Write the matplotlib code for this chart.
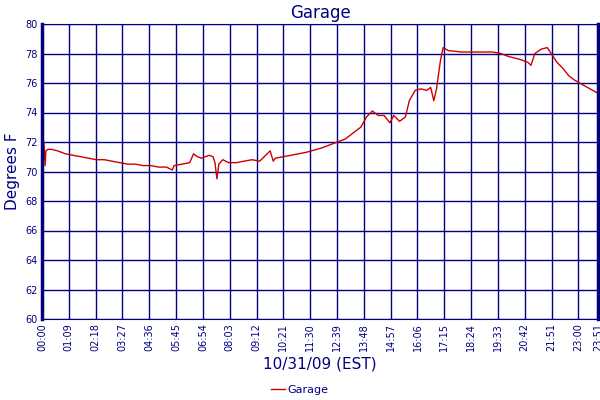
import matplotlib
matplotlib.use("Agg")
import matplotlib.pyplot as plt
from matplotlib.lines import Line2D

minutes = [0,5,8,10,15,25,40,60,80,100,120,140,160,180,200,220,240,260,280,300,320,335,340,360,380,390,400,410,420,430,440,445,450,455,465,480,500,520,540,560,587,595,600,640,680,720,750,780,800,820,835,850,865,880,895,905,920,935,945,960,975,990,1000,1008,1015,1025,1032,1045,1080,1120,1160,1180,1200,1230,1250,1258,1268,1285,1300,1310,1325,1340,1355,1370,1390,1410,1431]
temps = [72.0,72.0,70.4,71.4,71.5,71.5,71.4,71.2,71.1,71.0,70.9,70.8,70.8,70.7,70.6,70.5,70.5,70.4,70.4,70.3,70.3,70.1,70.4,70.5,70.6,71.2,71.0,70.9,71.0,71.1,71.0,70.6,69.5,70.5,70.8,70.6,70.6,70.7,70.8,70.7,71.4,70.7,70.9,71.1,71.3,71.6,71.9,72.2,72.6,73.0,73.7,74.1,73.8,73.8,73.3,73.8,73.4,73.7,74.8,75.5,75.6,75.5,75.7,74.8,75.6,77.5,78.4,78.2,78.1,78.1,78.1,78.0,77.8,77.6,77.4,77.2,78.0,78.3,78.4,78.0,77.4,77.0,76.5,76.2,75.9,75.6,75.3]
tick_labels = ["00:00","01:09","02:18","03:27","04:36","05:45","06:54","08:03","09:12","10:21","11:30","12:39","13:48","14:57","16:06","17:15","18:24","19:33","20:42","21:51","23:00","23:51"]
tick_pos = [i*69 for i in range(21)] + [1431]
yticks = list(range(60, 81, 2))

navy = "#000080"
fig = plt.figure(figsize=(6, 4), dpi=100)
ax = fig.add_axes([0.07, 0.2025, 0.927, 0.7375])
ax.plot(minutes, temps, color="#cc0000", lw=1)
ax.set_xlim(0, 1431)
ax.set_ylim(60, 80)
ax.set_xticks(tick_pos)
ax.set_xticklabels(tick_labels, rotation=90, fontsize=7, color=navy)
ax.set_yticks(yticks)
ax.set_yticklabels([str(v) for v in yticks], fontsize=7, color=navy)
ax.tick_params(length=0, pad=3)
ax.grid(True, color=navy, lw=1)
for s in ax.spines.values():
    s.set_color(navy)
ax.spines["left"].set_linewidth(2.5)
ax.spines["right"].set_linewidth(2.5)
ax.set_title("Garage", color=navy, fontsize=12, pad=4)
ax.set_ylabel("Degrees F", color=navy, fontsize=11, labelpad=4)
ax.set_xlabel("10/31/09 (EST)", color=navy, fontsize=11, labelpad=4)
fig.legend(handles=[Line2D([], [], color="#cc0000", lw=1)], labels=["Garage"],
           loc="center", bbox_to_anchor=(0.5, 0.025), frameon=False, fontsize=8,
           handlelength=1.2, handletextpad=0.3, labelcolor=navy)
fig.savefig("out.png")
